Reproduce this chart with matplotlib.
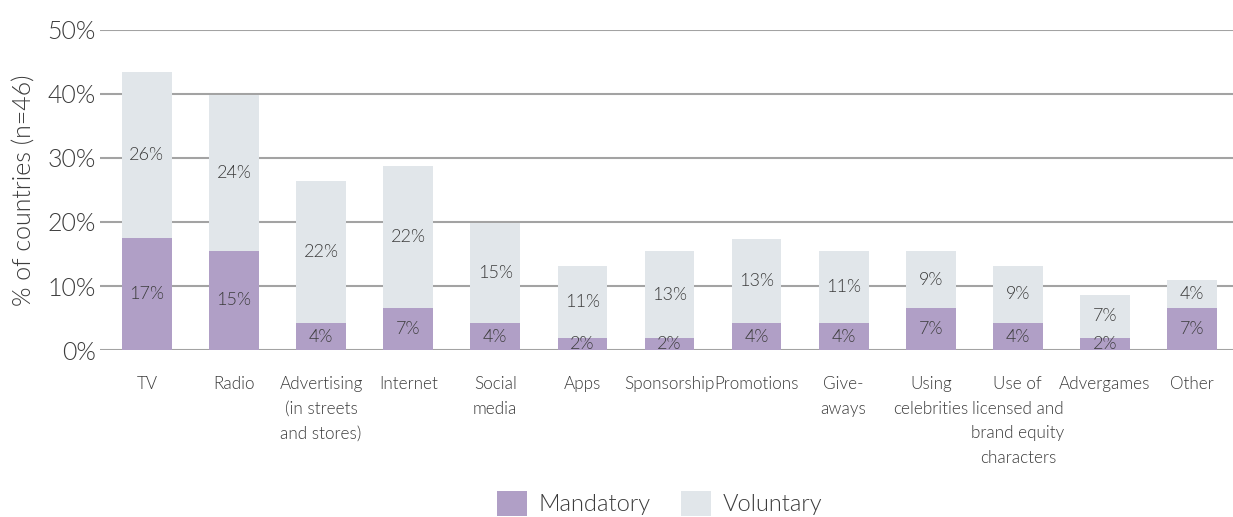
import matplotlib.pyplot as plt
import numpy as np

plt.rcParams['font.family'] = ['Lato', 'DejaVu Sans']
plt.rcParams['font.weight'] = 300

# data (share of 46 countries, %)
categories = ['TV', 'Radio', 'Advertising\n(in streets\nand stores)', 'Internet',
              'Social\nmedia', 'Apps', 'Sponsorship', 'Promotions', 'Give-\naways',
              'Using\ncelebrities', 'Use of\nlicensed and\nbrand equity\ncharacters',
              'Advergames', 'Other']
mandatory = [17.5, 15.5, 4.2, 6.5, 4.2, 1.9, 1.9, 4.2, 4.2, 6.5, 4.2, 1.9, 6.5]
voluntary = [25.9, 24.3, 22.2, 22.3, 15.6, 11.3, 13.5, 13.2, 11.3, 9.0, 9.0, 6.7, 4.4]
mand_labels = ['17%', '15%', '4%', '7%', '4%', '2%', '2%', '4%', '4%', '7%', '4%', '2%', '7%']
vol_labels = ['26%', '24%', '22%', '22%', '15%', '11%', '13%', '13%', '11%', '9%', '9%', '7%', '4%']

c_mand = '#b09fc6'
c_vol = '#e1e6ea'
txt = '#3c3c3c'

fig = plt.figure(figsize=(12.33, 5.17), dpi=100)
ax = fig.add_axes([0.081, 0.323, 0.919, 0.619])

x = np.arange(len(categories))
w = 0.57
b1 = ax.bar(x, mandatory, w, color=c_mand, label='Mandatory', zorder=3)
b2 = ax.bar(x, voluntary, w, bottom=mandatory, color=c_vol, label='Voluntary', zorder=3)

# segment labels in the middle of each piece
for i in range(len(x)):
    ax.text(x[i], mandatory[i] / 2, mand_labels[i], ha='center', va='center',
            fontsize=13, color=txt, zorder=4)
    ax.text(x[i], mandatory[i] + voluntary[i] / 2, vol_labels[i], ha='center', va='center',
            fontsize=13, color=txt, zorder=4)

ax.set_xlim(-0.54, len(x) - 0.53)
ax.set_ylim(0, 50)
ax.set_yticks(range(0, 51, 10))
ax.set_yticklabels([f'{v}%' for v in range(0, 51, 10)], fontsize=18, color=txt)
ax.yaxis.grid(True, color='#a3a3a3', linewidth=1.5, zorder=0)
ax.set_axisbelow(True)
ax.tick_params(axis='y', length=0, pad=3)
ax.tick_params(axis='x', length=0, pad=19)
ax.set_xticks(x)
ax.set_xticklabels(categories, fontsize=12.3, color=txt, linespacing=1.65, va='top')
for s in ax.spines.values():
    s.set_visible(False)

fig.text(25 / 1233, 1 - 190 / 517, '% of countries (n=46)', rotation=90,
         ha='center', va='center', fontsize=18, color=txt)

fig.legend(handles=[b1, b2], loc='center', bbox_to_anchor=(0.535, 0.027), ncol=2,
           frameon=False, fontsize=17, handlelength=1.25, handleheight=1.25,
           columnspacing=1.3, handletextpad=0.5, labelcolor=txt)

fig.savefig('out.png', dpi=100)
